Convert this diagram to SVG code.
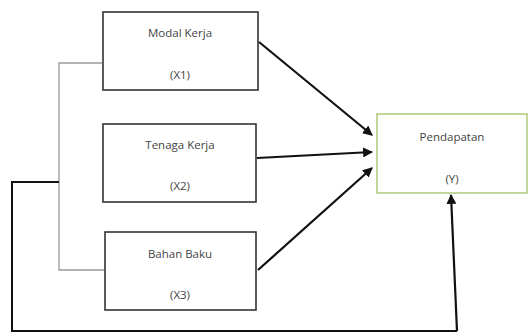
<svg xmlns="http://www.w3.org/2000/svg" width="529" height="335" viewBox="0 0 529 335">
<defs>
<marker id="ah" viewBox="0 0 10 10" refX="9" refY="5" markerWidth="4.5" markerHeight="4.5" orient="auto" markerUnits="strokeWidth">
<path d="M0,0 L10,5 L0,10 z" fill="#111"/>
</marker>
<style>
.box{fill:#fff;stroke:#333;stroke-width:1.6}
.ybox{fill:#fff;stroke:#9bbb59;stroke-width:1.2}
.t{font-family:"Open Sans","Liberation Sans",sans-serif;font-size:11.5px;fill:#444;text-anchor:middle}
.arr{fill:none;stroke:#111;stroke-width:2.2;marker-end:url(#ah)}
.gray{fill:none;stroke:#999;stroke-width:1.3}
.blk{fill:none;stroke:#111;stroke-width:2}
</style>
</defs>
<rect width="529" height="335" fill="#fff"/>
<g id="connectors">
<polyline class="gray" points="102,63 59,63 59,270 105,270"/>
<polyline class="blk" points="59,182 12,182 12,331 457,331"/>
<line class="arr" x1="457" y1="331" x2="451" y2="195"/>
<line class="arr" x1="259" y1="42" x2="372" y2="135"/>
<line class="arr" x1="257" y1="158" x2="372" y2="152"/>
<line class="arr" x1="258" y1="270" x2="372" y2="168"/>
</g>
<g id="x1">
<rect class="box" x="103" y="12" width="155" height="78"/>
<text class="t" x="180" y="37">Modal Kerja</text>
<text class="t" x="180" y="79">(X1)</text>
</g>
<g id="x2">
<rect class="box" x="103" y="124" width="153" height="78"/>
<text class="t" x="180" y="149">Tenaga Kerja</text>
<text class="t" x="180" y="190">(X2)</text>
</g>
<g id="x3">
<rect class="box" x="105" y="232" width="151" height="78"/>
<text class="t" x="180" y="258">Bahan Baku</text>
<text class="t" x="180" y="299">(X3)</text>
</g>
<g id="y">
<rect class="ybox" x="377" y="114" width="150" height="79"/>
<text class="t" x="452" y="141">Pendapatan</text>
<text class="t" x="452" y="183">(Y)</text>
</g>
</svg>
